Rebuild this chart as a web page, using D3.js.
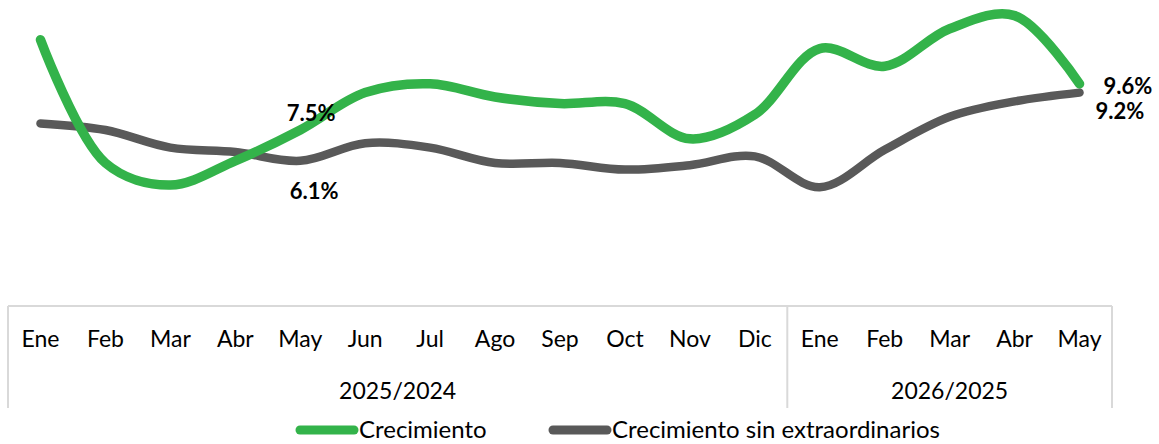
<!DOCTYPE html>
<html>
<head>
<meta charset="utf-8">
<script src="https://cdn.jsdelivr.net/npm/d3@7"></script>
<style>
  html, body { margin: 0; padding: 0; background: #fff; }
  svg { display: block; }
  text { font-family: Lato, "Open Sans", sans-serif; }
</style>
</head>
<body>
<div id="chart"></div>
<script>
const months = ["Ene","Feb","Mar","Abr","May","Jun","Jul","Ago","Sep","Oct","Nov","Dic","Ene","Feb","Mar","Abr","May"];
const groups = [
  { label: "2025/2024", start: 0, end: 11 },
  { label: "2026/2025", start: 12, end: 16 }
];
const crecimiento = [11.6, 6.0, 5.0, 6.1, 7.5, 9.2, 9.6, 9.0, 8.7, 8.7, 7.1, 8.2, 11.2, 10.4, 12.1, 12.7, 9.6];
const sinExtra    = [7.8, 7.5, 6.7, 6.5, 6.1, 6.9, 6.7, 6.0, 6.0, 5.7, 5.9, 6.3, 4.9, 6.6, 8.1, 8.8, 9.2];
const seriesNames = ["Crecimiento", "Crecimiento sin extraordinarios"];
const labelled = [
  { series: 0, index: 4, text: "7.5%" },
  { series: 1, index: 4, text: "6.1%" },
  { series: 0, index: 16, text: "9.6%" },
  { series: 1, index: 16, text: "9.2%" }
];

const W = 1159, H = 444;
const colors = ["#33b34a", "#595959"];

const svg = d3.select("#chart").append("svg").attr("width", W).attr("height", H);

const keys = months.map((m, i) => i);
const x = d3.scaleBand().domain(keys).range([8, 1112]).padding(0);
const y = d3.scaleLinear().domain([0, 13]).range([295, 9]);
const cx = i => x(i) + x.bandwidth() / 2;

// axis box
const boxTop = 306, boxBottom = 408;
const axisColor = "#d9d9d9";
svg.append("line").attr("x1", 8).attr("x2", 1112).attr("y1", boxTop).attr("y2", boxTop)
  .attr("stroke", axisColor).attr("stroke-width", 2);
const seps = [0, 12, 17].map(i => i < 17 ? x(i) : x(16) + x.bandwidth());
seps.forEach(sx => {
  svg.append("line").attr("x1", sx).attr("x2", sx).attr("y1", boxTop).attr("y2", boxBottom)
    .attr("stroke", axisColor).attr("stroke-width", 2);
});

// month labels
svg.append("g").selectAll("text").data(months).join("text")
  .attr("x", (d, i) => cx(i)).attr("y", 347)
  .attr("text-anchor", "middle").attr("font-size", 23).attr("fill", "#000")
  .text(d => d);

// group labels
svg.append("g").selectAll("text").data(groups).join("text")
  .attr("x", g => (x(g.start) + x(g.end) + x.bandwidth()) / 2).attr("y", 399)
  .attr("text-anchor", "middle").attr("font-size", 23).attr("fill", "#000")
  .text(g => g.label);

// lines
const line = d3.line().x((d, i) => cx(i)).y(d => y(d)).curve(d3.curveCatmullRom.alpha(0.5));
[sinExtra, crecimiento].forEach((s, k) => {
  const idx = k === 0 ? 1 : 0;
  svg.append("path").datum(s).attr("d", line).attr("fill", "none")
    .attr("stroke", colors[idx]).attr("stroke-width", idx === 0 ? 9.5 : 8.5)
    .attr("stroke-linecap", "round").attr("stroke-linejoin", "round");
});

// data labels
const labelOffsets = {
  "0-4": [11, -17, "middle"],
  "1-4": [14, 30, "middle"],
  "0-16": [24, 2, "start"],
  "1-16": [16, 19, "start"]
};
labelled.forEach(l => {
  const v = (l.series === 0 ? crecimiento : sinExtra)[l.index];
  const o = labelOffsets[l.series + "-" + l.index];
  svg.append("text")
    .attr("x", cx(l.index) + o[0]).attr("y", y(v) + o[1])
    .attr("dy", "0.35em")
    .attr("text-anchor", o[2]).attr("font-size", 22).attr("font-weight", "bold").attr("fill", "#000")
    .text(l.text);
});

// legend
const legendItems = [
  { name: seriesNames[0], color: colors[0], x0: 300 },
  { name: seriesNames[1], color: colors[1], x0: 553 }
];
legendItems.forEach(it => {
  svg.append("line").attr("x1", it.x0).attr("x2", it.x0 + 54).attr("y1", 430).attr("y2", 430)
    .attr("stroke", it.color).attr("stroke-width", 9).attr("stroke-linecap", "round");
  svg.append("text").attr("x", it.x0 + 59).attr("y", 438).attr("font-size", 24).attr("fill", "#000")
    .text(it.name);
});
</script>
</body>
</html>
